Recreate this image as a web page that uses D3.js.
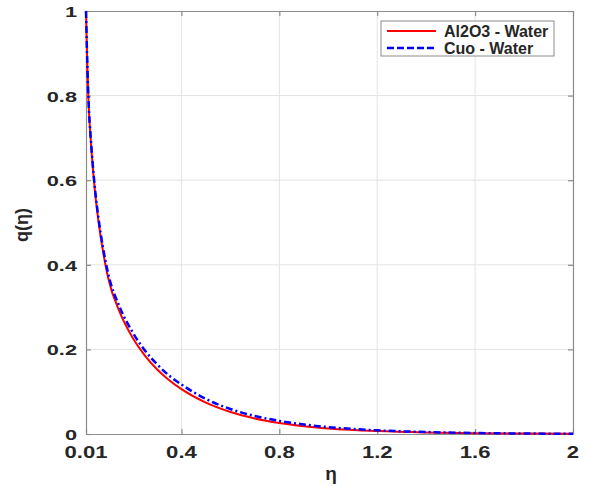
<!DOCTYPE html>
<html>
<head>
<meta charset="utf-8">
<script src="https://cdn.jsdelivr.net/npm/d3@7"></script>
<style>
  body { margin: 0; background: #fff; }
  text { font-family: "Liberation Sans", Arial, sans-serif; font-weight: bold; fill: #262626; }
</style>
</head>
<body>
<div id="chart"></div>
<script>
// eta grid shared by both series
var eta = [0.01, 0.015, 0.02, 0.03, 0.04, 0.05, 0.06, 0.08, 0.1, 0.15, 0.2, 0.25, 0.3,
           0.35, 0.4, 0.5, 0.6, 0.7, 0.8, 0.9, 1.0, 1.2, 1.4, 1.6, 1.8, 2.0];
// q(eta)
var qAl2o3 = [1.0, 0.88, 0.79, 0.69, 0.615, 0.555, 0.507, 0.43, 0.37, 0.285, 0.228, 0.186, 0.153,
              0.127, 0.106, 0.074, 0.052, 0.0367, 0.026, 0.0185, 0.0132, 0.0068, 0.0035, 0.0018, 0.0009, 0.0005];
var qCuo   = [1.0, 0.882, 0.793, 0.695, 0.621, 0.562, 0.515, 0.439, 0.381, 0.297, 0.241, 0.198, 0.165,
              0.138, 0.117, 0.083, 0.059, 0.0425, 0.031, 0.0225, 0.0163, 0.0087, 0.0046, 0.0024, 0.0012, 0.0006];
var seriesNames = ["Al2O3 - Water", "Cuo - Water"];
var xTicks = [0.01, 0.4, 0.8, 1.2, 1.6, 2];
var xTickLabels = ["0.01", "0.4", "0.8", "1.2", "1.6", "2"];
var yTicks = [0, 0.2, 0.4, 0.6, 0.8, 1];
var yTickLabels = ["0", "0.2", "0.4", "0.6", "0.8", "1"];

function main() {
    var W = 590, H = 486;
    var left = 86, right = 573, top = 11, bottom = 434;

    var svg = d3.select("#chart").append("svg")
        .attr("width", W)
        .attr("height", H);

    var x = d3.scaleLinear().domain([0.01, 2]).range([left, right]);
    var y = d3.scaleLinear().domain([0, 1]).range([bottom, top]);

    // grid
    svg.append("g").selectAll("line.gx")
        .data(xTicks.slice(1, -1))
        .join("line")
        .attr("x1", d => x(d)).attr("x2", d => x(d))
        .attr("y1", top).attr("y2", bottom)
        .attr("stroke", "#e3e3e3").attr("stroke-width", 1);
    svg.append("g").selectAll("line.gy")
        .data(yTicks.slice(1, -1))
        .join("line")
        .attr("x1", left).attr("x2", right)
        .attr("y1", d => y(d)).attr("y2", d => y(d))
        .attr("stroke", "#e3e3e3").attr("stroke-width", 1);

    // axes with inward ticks on all four sides
    var axisColor = "#8c8c8c";
    var bx = svg.append("g").attr("transform", "translate(0," + bottom + ")")
        .call(d3.axisBottom(x).tickValues(xTicks).tickSizeInner(-5).tickSizeOuter(0).tickFormat(""));
    var tx = svg.append("g").attr("transform", "translate(0," + top + ")")
        .call(d3.axisTop(x).tickValues(xTicks).tickSizeInner(-5).tickSizeOuter(0).tickFormat(""));
    var ly = svg.append("g").attr("transform", "translate(" + left + ",0)")
        .call(d3.axisLeft(y).tickValues(yTicks).tickSizeInner(-5).tickSizeOuter(0).tickFormat(""));
    var ry = svg.append("g").attr("transform", "translate(" + right + ",0)")
        .call(d3.axisRight(y).tickValues(yTicks).tickSizeInner(-5).tickSizeOuter(0).tickFormat(""));
    [bx, tx, ly, ry].forEach(function (g) {
        g.selectAll("path, line").attr("stroke", axisColor).attr("stroke-width", 1.2);
    });

    // tick labels (stretched horizontally like the original)
    svg.append("g").selectAll("text")
        .data(xTicks)
        .join("text")
        .attr("transform", (d) => "translate(" + x(d) + "," + (bottom + 24) + ") scale(1.3,1)")
        .attr("text-anchor", "middle")
        .attr("font-size", 17)
        .text((d, i) => xTickLabels[i]);

    svg.append("g").selectAll("text")
        .data(yTicks)
        .join("text")
        .attr("transform", (d) => "translate(" + (left - 9) + "," + (y(d) + 6) + ") scale(1.45,1)")
        .attr("text-anchor", "end")
        .attr("font-size", 15)
        .text((d, i) => yTickLabels[i]);

    // axis labels
    svg.append("text")
        .attr("x", 331).attr("y", 480)
        .attr("text-anchor", "middle")
        .attr("font-size", 19)
        .text("η");
    svg.append("text")
        .attr("transform", "translate(28,225) rotate(-90)")
        .attr("text-anchor", "middle")
        .attr("font-size", 18)
        .text("q(η)");

    // curves
    var line = d3.line()
        .x(d => x(d[0]))
        .y(d => y(d[1]))
        .curve(d3.curveMonotoneX);

    svg.append("path")
        .datum(eta.map((e, i) => [e, qAl2o3[i]]))
        .attr("d", line)
        .attr("fill", "none")
        .attr("stroke", "#ff0000")
        .attr("stroke-width", 2);

    svg.append("path")
        .datum(eta.map((e, i) => [e, qCuo[i]]))
        .attr("d", line)
        .attr("fill", "none")
        .attr("stroke", "#0000ff")
        .attr("stroke-width", 2.5)
        .attr("stroke-dasharray", "7,3,2,3");

    // legend
    var lg = svg.append("g");
    lg.append("rect")
        .attr("x", 381).attr("y", 21)
        .attr("width", 173).attr("height", 35)
        .attr("fill", "#fff")
        .attr("stroke", "#8c8c8c").attr("stroke-width", 1);
    var styles = [
        {color: "#ff0000", dash: null, w: 2},
        {color: "#0000ff", dash: "7,3", w: 2.5}
    ];
    seriesNames.forEach(function (name, i) {
        var yy = 31 + i * 17;
        lg.append("line")
            .attr("x1", 387).attr("x2", 436)
            .attr("y1", yy).attr("y2", yy)
            .attr("stroke", styles[i].color)
            .attr("stroke-width", styles[i].w)
            .attr("stroke-dasharray", styles[i].dash);
        lg.append("text")
            .attr("x", 444).attr("y", yy + 6)
            .attr("font-size", 16)
            .text(name);
    });
}

main()
</script>
</body>
</html>
